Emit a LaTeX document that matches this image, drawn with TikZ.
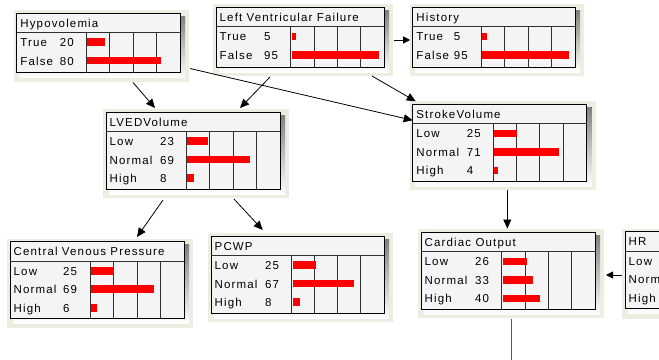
\documentclass[tikz,border=0pt]{standalone}
\usepackage{fontspec}
\setmainfont{Liberation Sans}[LetterSpace=10]
\usetikzlibrary{arrows.meta}
\definecolor{boxfill}{HTML}{F4F4F4}
\definecolor{halo}{HTML}{EEEDE2}
\definecolor{shade}{HTML}{CFCDBE}
\definecolor{barred}{HTML}{FF0000}
\definecolor{gridc}{HTML}{303030}
\definecolor{outline}{HTML}{555555}
\tikzset{
 bnbox/.style={draw=black, line width=0.9pt, fill=boxfill, rectangle, inner sep=0pt, outer sep=0pt},
 lbl/.style={anchor=base west, inner sep=0pt, font=\fontsize{11.5}{13}\selectfont},
 gridline/.style={draw=gridc, line width=0.9pt},
 barfill/.style={fill=barred},
 link/.style={draw=black, line width=0.8pt, -{Triangle[length=9pt,width=8pt]}},
 shortlink/.style={draw=black, line width=0.8pt, -{Triangle[length=7pt,width=7pt]}},
 outlink/.style={draw=outline, line width=1.3pt},
}
% name, x, y, w, h, numoff, baroff, title
\newcommand{\bnnode}[8]{%
  \fill[halo] ({#2-3},{#3-3}) rectangle ({#2+#4+9},{#3+#5+9});
  \fill[shade] ({#2+3},{#3+3}) rectangle ({#2+#4+5},{#3+#5+5});
  \node[bnbox, minimum width=#4, minimum height=#5, anchor=north west] (#1) at (#2,#3) {};
  \node[lbl] (#1-title) at ({#2+3.5},{#3+14.2}) {#8};
  \draw[gridline] ({#2},{#3+19.5}) -- ({#2+#4},{#3+19.5});
  \foreach \k in {0,1,2,3} {\draw[gridline] ({#2+#7+\k*(#4-#7)/4},{#3+19.5}) -- ++(0,{#5-19.5});}
}
% name, x, y, numoff, baroff, rows
\newcommand{\bnrows}[6]{%
  \foreach \lab/\val [count=\i] in {#6} {
    \pgfmathsetmacro{\cy}{#3+29.5+18.5*(\i-1)}
    \node[lbl] (#1-l\i) at ({#2+3.5},{\cy+4.1}) {\lab};
    \node[lbl] (#1-v\i) at ({#2+#4},{\cy+4.1}) {\val};
    \fill[barfill] ({#2+#5+1},{\cy-4.3}) rectangle ({#2+#5+1+0.92*\val},{\cy+3.3});
  }
}
\begin{document}
\begin{tikzpicture}[x=1pt,y=-1pt]
\useasboundingbox (0,0) rectangle (659,359);
\clip (0,0) rectangle (659,359);

\bnnode{hypo}{16.7}{13}{163.3}{59.5}{43}{69.3}{Hypovolemia}
\bnrows{hypo}{16.7}{13}{43}{69.3}{True/20, False/80}

\bnnode{lvf}{216}{7.3}{168}{59.7}{48}{74.7}{Left Ventricular Failure}
\bnrows{lvf}{216}{7.3}{48}{74.7}{True/5, False/95}

\bnnode{hist}{412.7}{7.3}{162.3}{59.7}{41}{68.3}{History}
\bnrows{hist}{412.7}{7.3}{41}{68.3}{True/5, False/95}

\bnnode{lved}{106}{112}{174}{77}{54}{80}{LVEDVolume}
\bnrows{lved}{106}{112}{54}{80}{Low/23, Normal/69, High/8}

\bnnode{sv}{412.7}{104.3}{174}{77}{54}{80.3}{StrokeVolume}
\bnrows{sv}{412.7}{104.3}{54}{80.3}{Low/25, Normal/71, High/4}

\bnnode{cvp}{10}{241.7}{174}{77}{53}{80}{Central Venous Pressure}
\bnrows{cvp}{10}{241.7}{53}{80}{Low/25, Normal/69, High/6}

\bnnode{pcwp}{211}{236}{173}{77}{54}{80.7}{PCWP}
\bnrows{pcwp}{211}{236}{54}{80.7}{Low/25, Normal/67, High/8}

\bnnode{co}{421}{232.3}{174}{77}{54}{80.7}{Cardiac Output}
\bnrows{co}{421}{232.3}{54}{80.7}{Low/26, Normal/33, High/40}

% HR node (cut off by the picture edge)
\fill[halo] (622,228.7) rectangle (808,318.7);
\fill[shade] (628,234.7) rectangle (804,313.7);
\node[bnbox, minimum width=174, minimum height=77, anchor=north west] (hr) at (625,231.7) {};
\node[lbl] (hr-title) at (628.5,245.9) {HR};
\draw[gridline] (625,251.2) -- (799,251.2);
\node[lbl] (hr-l1) at (628.5,265.3) {Low};
\node[lbl] (hr-l2) at (628.5,283.8) {Normal};
\node[lbl] (hr-l3) at (628.5,302.3) {High};

% connectors
\draw[link] ([shift={(116.3,10)}]hypo.south west) -- ([shift={(49,-4)}]lved.north west);
\draw[link] ([shift={(10,-4)}]hypo.south east) -- ([shift={(0,16)}]sv.north west);
\draw[link] ([shift={(54,10)}]lvf.south west) -- ([shift={(134,-4)}]lved.north west);
\draw[link] ([shift={(156,9)}]lvf.south west) -- ([shift={(3,-3)}]sv.north west);
\draw[shortlink] ([shift={(10,32.7)}]lvf.north east) -- ([shift={(-2.5,32.7)}]hist.north west);
\draw[link] ([shift={(57,11)}]lved.south west) -- ([shift={(127,-4.7)}]cvp.north west);
\draw[link] ([shift={(128,10)}]lved.south west) -- ([shift={(51.7,-6)}]pcwp.north west);
\draw[link] ([shift={(94.6,8.3)}]sv.south west) -- ([shift={(86.3,-3.8)}]co.north west);
\draw[shortlink] ([shift={(-3.3,43.3)}]hr.north west) -- ([shift={(11,42.7)}]co.north east);
\coordinate (coout) at (511.7,365);
\draw[outlink] ([shift={(90.7,9.7)}]co.south west) -- (coout);
\end{tikzpicture}
\end{document}
